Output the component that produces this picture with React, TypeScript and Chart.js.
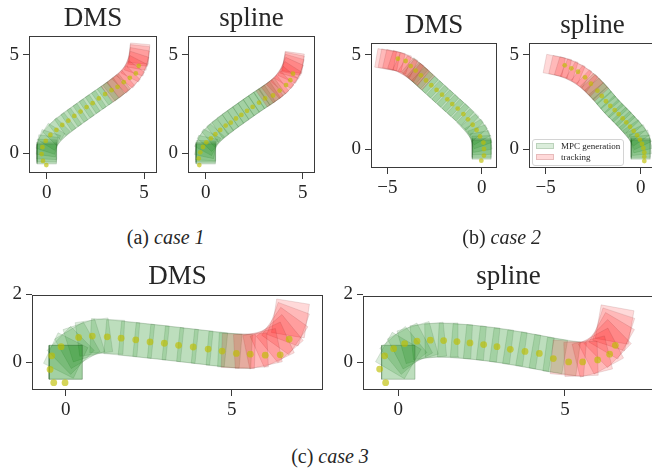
import React, { useEffect, useRef } from 'react';
import Chart from 'chart.js/auto';

type Pose = [number, number, number]; // centre x, centre y, heading (deg)
type Pt = [number, number];

// ---------- tick labels ----------
const case1XTicks = [0, 5];
const case1YTicks = [0, 5];
const case2XTicks = [-5, 0];
const case2YTicks = [0, 5];
const case3XTicks = [0, 5];
const case3YTicks = [0, 2];

// ---------- case 1 : DMS ----------
const case1DmsGreen: Pose[] = [
  [0, -0.05, 90], [0, 0, 90], [0, 0.08, 90], [0, 0.2, 88], [0.02, 0.38, 82], [0.08, 0.58, 72],
  [0.24, 0.84, 58], [0.5, 1.1, 46], [0.8, 1.36, 38], [1.1, 1.6, 35], [1.42, 1.84, 34], [1.74, 2.06, 34],
  [2.05, 2.28, 34], [2.36, 2.5, 34], [2.68, 2.72, 34], [3.0, 2.94, 35], [3.3, 3.15, 36], [3.6, 3.36, 38],
];
const case1DmsRed: Pose[] = [
  [3.5, 3.3, 38], [3.8, 3.52, 40], [4.08, 3.76, 45], [4.32, 4.02, 53], [4.5, 4.3, 63],
  [4.62, 4.56, 72], [4.7, 4.8, 80], [4.74, 4.98, 84], [4.76, 5.07, 85],
];
const case1DmsDots: Pt[] = [
  [-0.02, -0.6], [-0.19, -0.39], [-0.26, -0.04], [-0.22, 0.31], [-0.05, 0.63], [0.19, 0.93], [0.5, 1.19],
  [0.8, 1.44], [1.11, 1.66], [1.42, 1.9], [1.74, 2.12], [2.05, 2.35], [2.36, 2.55], [2.68, 2.79],
  [3.0, 3.01], [3.33, 3.21], [3.64, 3.38], [3.96, 3.62], [4.27, 3.84], [4.58, 4.06], [4.73, 4.45],
];

// ---------- case 1 : spline ----------
const case1SplineGreen: Pose[] = [
  [0, -0.05, 90], [0, 0, 90], [0, 0.06, 90], [0, 0.14, 88], [0.02, 0.32, 78], [0.1, 0.56, 62],
  [0.27, 0.8, 48], [0.5, 1.04, 40], [0.75, 1.26, 36], [1.0, 1.46, 35], [1.27, 1.66, 34], [1.54, 1.85, 34],
  [1.81, 2.04, 34], [2.08, 2.23, 34], [2.35, 2.42, 34], [2.62, 2.6, 34], [2.89, 2.78, 34], [3.16, 2.96, 34],
  [3.42, 3.14, 36],
];
const case1SplineRed: Pose[] = [
  [3.3, 3.05, 35], [3.58, 3.26, 38], [3.84, 3.48, 43], [4.06, 3.72, 50], [4.24, 3.98, 58],
  [4.38, 4.22, 66], [4.46, 4.42, 74], [4.5, 4.55, 79], [4.52, 4.62, 82],
];
const case1SplineDots: Pt[] = [
  [-0.33, -0.6], [-0.36, -0.26], [-0.28, 0.05], [-0.14, 0.32], [0.03, 0.56], [0.27, 0.76], [0.5, 0.97],
  [0.75, 1.19], [1.03, 1.41], [1.29, 1.56], [1.56, 1.77], [1.84, 1.95], [2.13, 2.16], [2.42, 2.36],
  [2.75, 2.58], [3.06, 2.79], [3.47, 2.94], [3.81, 3.19], [4.14, 3.47], [4.36, 3.72], [4.5, 4.05],
];

// ---------- case 2 : DMS ----------
const case2DmsGreen: Pose[] = [
  [0, -0.05, 90], [0, 0, 90], [0, 0.06, 90], [0, 0.2, 92], [-0.03, 0.4, 100], [-0.1, 0.65, 110],
  [-0.22, 0.9, 120], [-0.4, 1.15, 130], [-0.62, 1.42, 136], [-0.85, 1.71, 137], [-1.12, 1.95, 137],
  [-1.39, 2.19, 137], [-1.66, 2.44, 137], [-1.93, 2.68, 137], [-2.2, 2.93, 137], [-2.47, 3.17, 137],
  [-2.74, 3.42, 137], [-3.01, 3.66, 137], [-3.28, 3.9, 138], [-3.55, 4.15, 139],
];
const case2DmsRed: Pose[] = [
  [-3.2, 3.85, 138], [-3.48, 4.08, 142], [-3.76, 4.28, 148], [-4.05, 4.47, 155], [-4.35, 4.62, 162],
  [-4.65, 4.7, 167], [-4.9, 4.74, 169], [-5.09, 4.76, 170],
];
const case2DmsDots: Pt[] = [
  [-4.44, 4.8], [-4.03, 4.68], [-3.76, 4.41], [-3.5, 4.17], [-3.22, 3.92], [-2.95, 3.65], [-2.67, 3.39],
  [-2.39, 3.14], [-2.1, 2.89], [-1.82, 2.64], [-1.56, 2.39], [-1.27, 2.15], [-0.97, 1.86], [-0.73, 1.58],
  [-0.48, 1.29], [-0.27, 1.01], [-0.09, 0.67], [0.09, 0.34], [0.12, 0], [0.12, -0.35], [-0.02, -0.62],
];

// ---------- case 2 : spline ----------
const case2SplineGreen: Pose[] = [
  [0, -0.05, 90], [0, 0, 90], [0, 0.06, 90], [0.02, 0.2, 95], [0.0, 0.4, 104], [-0.1, 0.63, 116],
  [-0.25, 0.86, 125], [-0.43, 1.08, 130], [-0.62, 1.3, 132], [-0.81, 1.51, 133], [-1.0, 1.72, 134],
  [-1.2, 1.93, 134], [-1.41, 2.14, 133], [-1.62, 2.36, 131], [-1.82, 2.6, 130], [-2.02, 2.84, 130],
  [-2.24, 3.08, 131], [-2.48, 3.32, 134],
];
const case2SplineRed: Pose[] = [
  [-2.4, 3.25, 133], [-2.68, 3.5, 137], [-2.96, 3.74, 143], [-3.26, 3.95, 150], [-3.58, 4.13, 157],
  [-3.92, 4.28, 163], [-4.24, 4.38, 167], [-4.55, 4.45, 169],
];
const case2SplineDots: Pt[] = [
  [-4.0, 4.45], [-3.65, 4.29], [-3.3, 4.11], [-2.93, 3.81], [-2.62, 3.47], [-2.28, 3.1], [-2.05, 2.82],
  [-1.83, 2.54], [-1.6, 2.29], [-1.37, 2.07], [-1.16, 1.86], [-0.95, 1.63], [-0.76, 1.42], [-0.56, 1.19],
  [-0.37, 0.96], [-0.19, 0.73], [-0.04, 0.5], [0.07, 0.27], [0.14, 0.05], [0.19, -0.18], [0.19, -0.41],
  [0.19, -0.64],
];

// ---------- case 3 : DMS ----------
const case3DmsGreen: Pose[] = [
  [0, 0, 0], [0, 0, 0], [0, 0, 0], [0.0, 0.2, 64], [0.15, 0.35, 45], [0.35, 0.5, 30],
  [0.55, 0.64, 18], [0.85, 0.74, 8], [1.25, 0.76, -3], [1.69, 0.71, -5], [2.13, 0.66, -6], [2.57, 0.62, -6],
  [3.01, 0.57, -6], [3.45, 0.52, -6], [3.89, 0.47, -6], [4.33, 0.42, -6], [4.77, 0.37, -5], [5.1, 0.34, -3],
];
const case3DmsRed: Pose[] = [
  [5.2, 0.33, -2], [5.58, 0.34, 3], [5.93, 0.4, 12], [6.22, 0.52, 25], [6.45, 0.7, 40],
  [6.6, 0.92, 55], [6.7, 1.12, 70], [6.77, 1.29, 81],
];
const case3DmsDots: Pt[] = [
  [-0.36, -0.6], [-0.02, -0.6], [-0.47, -0.21], [-0.42, 0.19], [-0.14, 0.46], [0.39, 0.73], [0.8, 0.77],
  [1.25, 0.75], [1.67, 0.71], [2.11, 0.66], [2.54, 0.6], [2.97, 0.56], [3.4, 0.5], [3.84, 0.45],
  [4.29, 0.39], [4.71, 0.33], [5.14, 0.26], [5.56, 0.24], [6.01, 0.21], [6.46, 0.22], [6.73, 0.68],
];

// ---------- case 3 : spline ----------
const case3SplineGreen: Pose[] = [
  [0, 0, 0], [0, 0, 0], [0.0, 0.2, 60], [0.15, 0.35, 40], [0.35, 0.48, 28], [0.58, 0.58, 16],
  [0.9, 0.63, 6], [1.3, 0.65, 1], [1.7, 0.63, -3], [2.1, 0.6, -5], [2.5, 0.56, -6],
  [2.9, 0.51, -7], [3.3, 0.45, -8], [3.7, 0.38, -9], [4.1, 0.31, -10], [4.5, 0.24, -10], [4.9, 0.17, -8],
];
const case3SplineRed: Pose[] = [
  [5.1, 0.12, -5], [5.48, 0.1, 2], [5.82, 0.17, 14], [6.08, 0.33, 28], [6.28, 0.55, 45],
  [6.4, 0.78, 60], [6.46, 0.97, 72], [6.49, 1.11, 80],
];
const case3SplineDots: Pt[] = [
  [-0.38, -0.6], [-0.56, -0.2], [-0.41, 0.19], [-0.14, 0.4], [0.19, 0.55], [0.56, 0.62], [0.96, 0.65],
  [1.36, 0.64], [1.76, 0.61], [2.15, 0.57], [2.56, 0.52], [2.96, 0.46], [3.36, 0.38], [3.8, 0.32],
  [4.23, 0.26], [4.65, 0.11], [5.11, 0.01], [5.53, 0.01], [5.98, 0.07], [6.34, 0.24], [6.51, 0.5],
];

const legendLabels = ['MPC generation', 'tracking'];

// ---------- styles ----------
const SERIF = '"Liberation Serif", "Times New Roman", serif';
const TEXT = '#262626';
const SPINE = '#3a3a3a';
const GREEN_FILL = 'rgba(0,128,0,0.14)';
const GREEN_EDGE = 'rgba(30,80,30,0.17)';
const RED_FILL = 'rgba(255,0,0,0.15)';
const RED_EDGE = 'rgba(110,40,40,0.17)';
const DOT = 'rgba(190,190,0,0.65)';

const YW = 34; // y axis box width
const XH = 36; // x axis box height
const PR = 8;  // right padding
const TH = 40; // title box height
const TITLE_SIZE = 27;

function squarePoints(p: Pose) {
  const [cx, cy, deg] = p;
  const t = (deg * Math.PI) / 180;
  const hx = 0.5 * Math.cos(t), hy = 0.5 * Math.sin(t);
  const nx = -hy, ny = hx;
  const pts: Pt[] = [
    [cx + hx + nx, cy + hy + ny],
    [cx - hx + nx, cy - hy + ny],
    [cx - hx - nx, cy - hy - ny],
    [cx + hx - nx, cy + hy - ny],
  ];
  pts.push(pts[0]);
  return pts.map(([x, y]) => ({ x, y }));
}

const fmt = (v: number | string) => {
  const n = Number(v);
  return n < 0 ? '\u2212' + Math.abs(n) : String(n);
};

const framePlugin = {
  id: 'frame',
  afterDraw(chart: any) {
    const { ctx, chartArea: a } = chart;
    ctx.save();
    ctx.strokeStyle = SPINE;
    ctx.lineWidth = 1;
    ctx.strokeRect(a.left + 0.5, a.top + 0.5, a.right - a.left - 1, a.bottom - a.top - 1);
    ctx.restore();
  },
};

interface Spec {
  title: string;
  green: Pose[];
  red: Pose[];
  dots: Pt[];
  xTicks: number[];
  yTicks: number[];
  xr: [number, number];
  yr: [number, number];
  box: { l: number; t: number; r: number; b: number };
  titleBaseline: number;
  dotR: number;
}

const panels: Spec[] = [
  { title: 'DMS', green: case1DmsGreen, red: case1DmsRed, dots: case1DmsDots, xTicks: case1XTicks, yTicks: case1YTicks,
    xr: [-0.91, 5.668], yr: [-1.002, 5.966], box: { l: 29, t: 36, r: 157, b: 173 }, titleBaseline: 28.3, dotR: 2.4 },
  { title: 'spline', green: case1SplineGreen, red: case1SplineRed, dots: case1SplineDots, xTicks: case1XTicks, yTicks: case1YTicks,
    xr: [-0.912, 5.634], yr: [-1.002, 5.966], box: { l: 188, t: 36, r: 315, b: 173 }, titleBaseline: 28.3, dotR: 2.4 },
  { title: 'DMS', green: case2DmsGreen, red: case2DmsRed, dots: case2DmsDots, xTicks: case2XTicks, yTicks: case2YTicks,
    xr: [-5.863, 0.81], yr: [-1.01, 5.638], box: { l: 371, t: 43, r: 497, b: 168 }, titleBaseline: 35, dotR: 2.4 },
  { title: 'spline', green: case2SplineGreen, red: case2SplineRed, dots: case2SplineDots, xTicks: case2XTicks, yTicks: case2YTicks,
    xr: [-5.879, 0.805], yr: [-1.01, 5.638], box: { l: 529, t: 43, r: 656, b: 168 }, titleBaseline: 35, dotR: 2.4 },
  { title: 'DMS', green: case3DmsGreen, red: case3DmsRed, dots: case3DmsDots, xTicks: case3XTicks, yTicks: case3YTicks,
    xr: [-1.015, 7.75], yr: [-0.815, 1.979], box: { l: 32, t: 295, r: 323, b: 390 }, titleBaseline: 286, dotR: 3.4 },
  { title: 'spline', green: case3SplineGreen, red: case3SplineRed, dots: case3SplineDots, xTicks: case3XTicks, yTicks: case3YTicks,
    xr: [-1.059, 7.67], yr: [-0.815, 1.95], box: { l: 363, t: 296, r: 654, b: 390 }, titleBaseline: 286, dotR: 3.4 },
];

function Panel({ spec }: { spec: Spec }) {
  const ref = useRef<HTMLCanvasElement>(null);
  const left = spec.box.l - YW;
  const top = spec.box.t - TH;
  const W = spec.box.r + PR - left;
  const H = spec.box.b + XH - top;
  const pt = spec.titleBaseline - top - (TITLE_SIZE / 2 + 0.3375 * TITLE_SIZE);
  const pb = TH - TITLE_SIZE - pt;

  useEffect(() => {
    const datasets: any[] = [
      {
        data: spec.dots.map(([x, y]) => ({ x, y })),
        showLine: false,
        pointRadius: spec.dotR,
        pointHoverRadius: spec.dotR,
        pointBackgroundColor: DOT,
        pointBorderColor: 'rgba(0,0,0,0)',
        pointBorderWidth: 0,
        fill: false,
      },
      ...spec.red.map((p) => ({
        data: squarePoints(p), fill: 'shape', backgroundColor: RED_FILL, borderColor: RED_EDGE,
        borderWidth: 0.8, pointRadius: 0, tension: 0,
      })),
      ...spec.green.map((p) => ({
        data: squarePoints(p), fill: 'shape', backgroundColor: GREEN_FILL, borderColor: GREEN_EDGE,
        borderWidth: 0.8, pointRadius: 0, tension: 0,
      })),
    ];
    const tickFont = { family: SERIF, size: 19 };
    const grid = { display: true, drawOnChartArea: false, drawTicks: true, tickLength: 6, color: SPINE, lineWidth: 1 };
    const chart = new Chart(ref.current as HTMLCanvasElement, {
      type: 'line',
      data: { datasets },
      options: {
        responsive: false,
        animation: false,
        devicePixelRatio: 1,
        events: [],
        layout: { padding: { left: 0, right: PR, top: 0, bottom: 0 } },
        scales: {
          x: {
            type: 'linear', min: spec.xr[0], max: spec.xr[1],
            afterBuildTicks: (s: any) => { s.ticks = spec.xTicks.map((v) => ({ value: v })); },
            afterFit: (s: any) => { s.height = XH; },
            ticks: { font: tickFont, color: TEXT, padding: 3, maxRotation: 0, autoSkip: false, callback: fmt },
            grid, border: { display: false },
          },
          y: {
            type: 'linear', min: spec.yr[0], max: spec.yr[1],
            afterBuildTicks: (s: any) => { s.ticks = spec.yTicks.map((v) => ({ value: v })); },
            afterFit: (s: any) => { s.width = YW; },
            ticks: { font: tickFont, color: TEXT, padding: 4, autoSkip: false, callback: fmt },
            grid, border: { display: false },
          },
        },
        plugins: {
          legend: { display: false },
          tooltip: { enabled: false },
          title: {
            display: true, text: spec.title, fullSize: false, color: TEXT,
            font: { family: SERIF, size: TITLE_SIZE, lineHeight: 1, weight: 'normal' },
            padding: { top: pt, bottom: pb },
          },
        },
      } as any,
      plugins: [framePlugin],
    });
    return () => chart.destroy();
  }, []);

  return (
    <canvas ref={ref} width={W} height={H}
      style={{ position: 'absolute', left, top, width: W, height: H }} />
  );
}

function Caption({ cx, baseline, label, italic }: { cx: number; baseline: number; label: string; italic: string }) {
  return (
    <div style={{
      position: 'absolute', left: cx - 100, top: baseline - 16.75, width: 200, textAlign: 'center',
      fontFamily: SERIF, fontSize: 20, lineHeight: '20px', color: TEXT, whiteSpace: 'nowrap',
    }}>
      {label} <i>{italic}</i>
    </div>
  );
}

function Legend() {
  const patch = (bg: string, edge: string, top: number) => (
    <div style={{ position: 'absolute', left: 3, top, width: 18, height: 6, background: bg, border: `1px solid ${edge}`, boxSizing: 'border-box' }} />
  );
  const text = (s: string, top: number) => (
    <div style={{ position: 'absolute', left: 28, top, fontFamily: SERIF, fontSize: 9, lineHeight: '9px', color: TEXT, whiteSpace: 'nowrap' }}>{s}</div>
  );
  return (
    <div style={{
      position: 'absolute', left: 532, top: 139, width: 92, height: 27, boxSizing: 'border-box',
      border: '1px solid #d4d4d4', borderRadius: 3, background: 'rgba(255,255,255,0.8)', zIndex: 5,
    }}>
      {patch(GREEN_FILL, GREEN_EDGE, 2.5)}
      {text(legendLabels[0], 1.5)}
      {patch(RED_FILL, RED_EDGE, 14)}
      {text(legendLabels[1], 13)}
    </div>
  );
}

export default function App() {
  return (
    <div style={{ position: 'fixed', left: 0, top: 0, width: 652, height: 474, overflow: 'hidden', background: '#fff' }}>
      {panels.map((s, i) => <Panel key={i} spec={s} />)}
      <Legend />
      <Caption cx={165.7} baseline={244} label="(a)" italic="case 1" />
      <Caption cx={501.7} baseline={244} label="(b)" italic="case 2" />
      <Caption cx={330} baseline={463} label="(c)" italic="case 3" />
    </div>
  );
}
